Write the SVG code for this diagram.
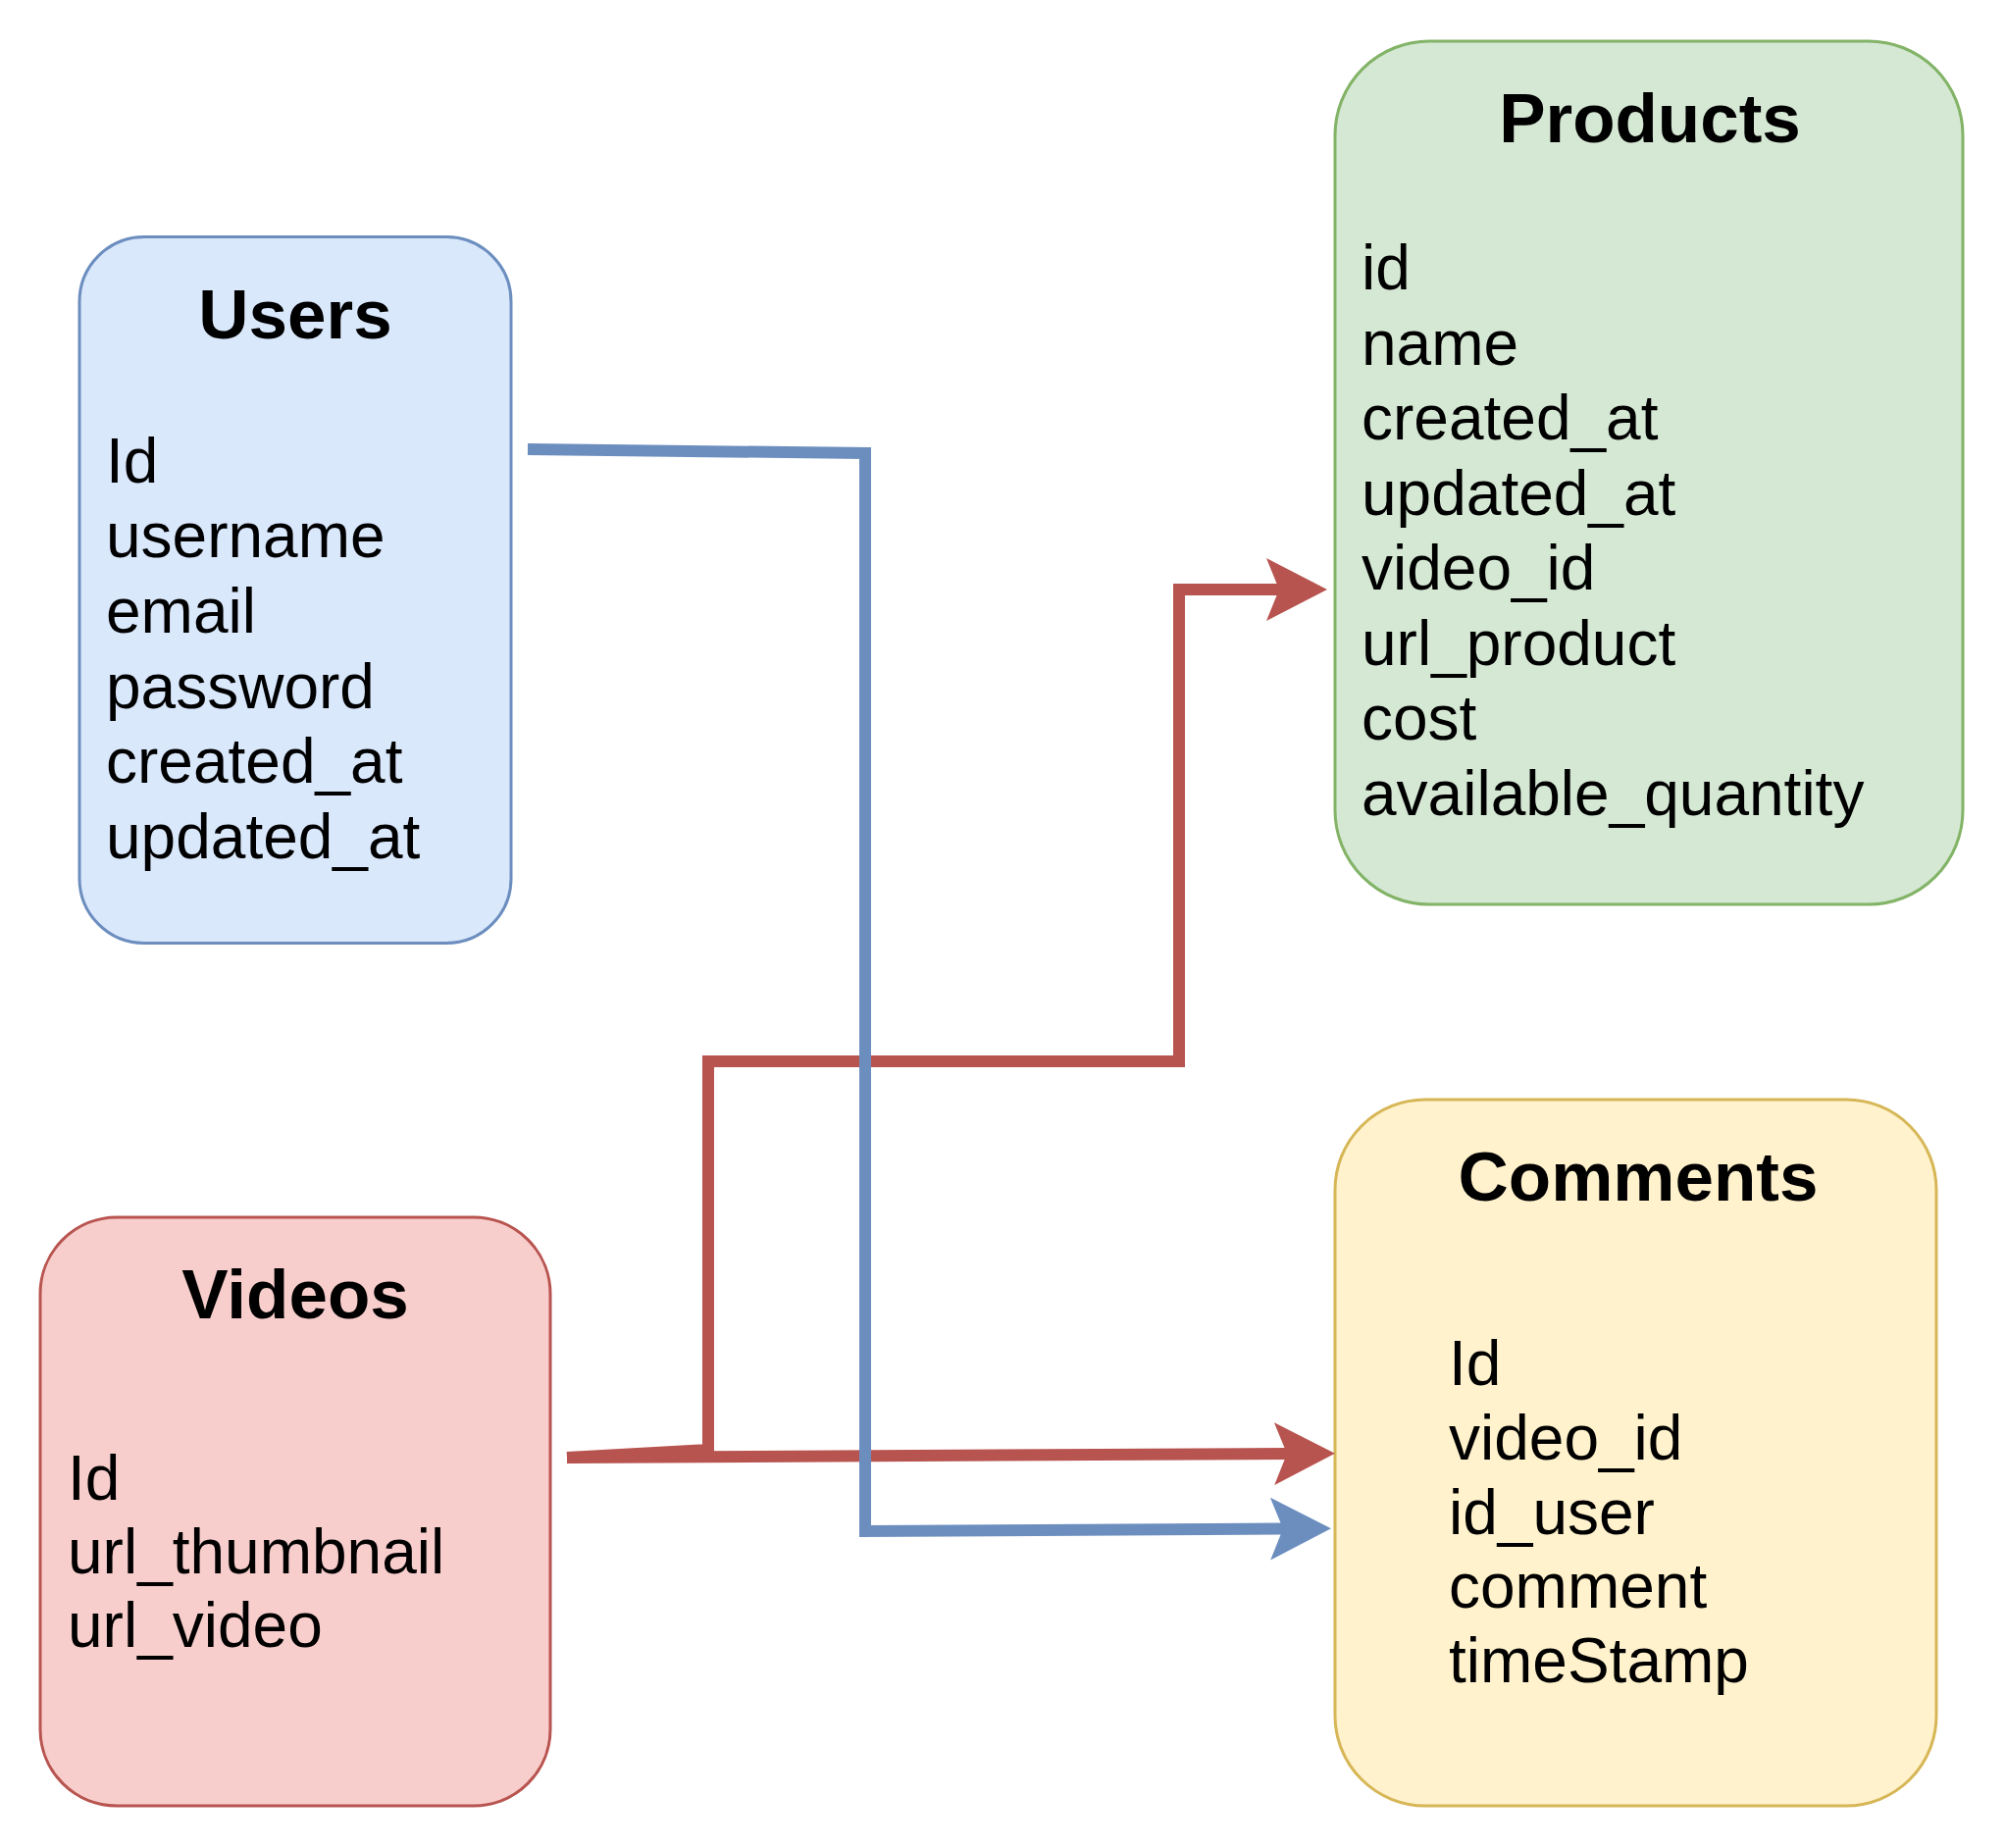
<svg xmlns="http://www.w3.org/2000/svg" width="2044" height="1884" viewBox="0 0 2044 1884">
<style>
  .box { stroke-width: 3; }
  .title { font-family: "Liberation Sans", Arial, sans-serif; font-weight: bold; font-size: 71px; fill: #000; text-anchor: middle; }
  .body { font-family: "Liberation Sans", Arial, sans-serif; font-size: 64px; fill: #000; }
  .conn { fill: none; stroke-width: 12; stroke-linejoin: miter; stroke-linecap: butt; }
</style>
<defs>
  <marker id="arrRed" markerUnits="userSpaceOnUse" viewBox="0 0 62 64" markerWidth="62" markerHeight="64" refX="13" refY="32" orient="auto">
    <path d="M0 0 L62 32 L0 64 L13 32 Z" fill="#b85450"/>
  </marker>
  <marker id="arrBlue" markerUnits="userSpaceOnUse" viewBox="0 0 62 64" markerWidth="62" markerHeight="64" refX="13" refY="32" orient="auto">
    <path d="M0 0 L62 32 L0 64 L13 32 Z" fill="#6c8ebf"/>
  </marker>
</defs>
<rect width="2044" height="1884" fill="#ffffff"/>

<g id="users">
  <rect class="box" x="81" y="241.5" width="440" height="720" rx="66" ry="66" fill="#dae8fc" stroke="#6c8ebf"/>
  <text class="title" x="301" y="345">Users</text>
  <text class="body" x="108" y="491.5">Id</text>
  <text class="body" x="108" y="568.2">username</text>
  <text class="body" x="108" y="644.9">email</text>
  <text class="body" x="108" y="721.6">password</text>
  <text class="body" x="108" y="798.3">created_at</text>
  <text class="body" x="108" y="875">updated_at</text>
</g>

<g id="products">
  <rect class="box" x="1361" y="42" width="640" height="880" rx="96" ry="96" fill="#d5e8d4" stroke="#82b366"/>
  <text class="title" x="1682" y="145">Products</text>
  <text class="body" x="1388" y="295">id</text>
  <text class="body" x="1388" y="371.5">name</text>
  <text class="body" x="1388" y="448">created_at</text>
  <text class="body" x="1388" y="524.5">updated_at</text>
  <text class="body" x="1388" y="601">video_id</text>
  <text class="body" x="1388" y="677.5">url_product</text>
  <text class="body" x="1388" y="754">cost</text>
  <text class="body" x="1388" y="830.5">available_quantity</text>
</g>

<g id="videos">
  <rect class="box" x="41" y="1241" width="520" height="600" rx="78" ry="78" fill="#f8cecc" stroke="#b85450"/>
  <text class="title" x="301" y="1344">Videos</text>
  <text class="body" x="69" y="1529">Id</text>
  <text class="body" x="69" y="1604">url_thumbnail</text>
  <text class="body" x="69" y="1679">url_video</text>
</g>

<g id="comments">
  <rect class="box" x="1361" y="1121" width="613" height="720" rx="92" ry="92" fill="#fff2cc" stroke="#d6b656"/>
  <text class="title" x="1670" y="1224">Comments</text>
  <text class="body" x="1477" y="1412">Id</text>
  <text class="body" x="1477" y="1487.8">video_id</text>
  <text class="body" x="1477" y="1563.6">id_user</text>
  <text class="body" x="1477" y="1639.4">comment</text>
  <text class="body" x="1477" y="1715.2">timeStamp</text>
</g>

<g id="connectors">
  <path class="conn" stroke="#b85450" d="M578 1486 L722 1478 L722 1082 L1202 1082 L1202 601 L1304 601" marker-end="url(#arrRed)"/>
  <path class="conn" stroke="#b85450" d="M578 1486 L1312 1482" marker-end="url(#arrRed)"/>
  <path class="conn" stroke="#6c8ebf" d="M538 458 L882 462 L882 1561 L1308 1558.5" marker-end="url(#arrBlue)"/>
</g>
</svg>
